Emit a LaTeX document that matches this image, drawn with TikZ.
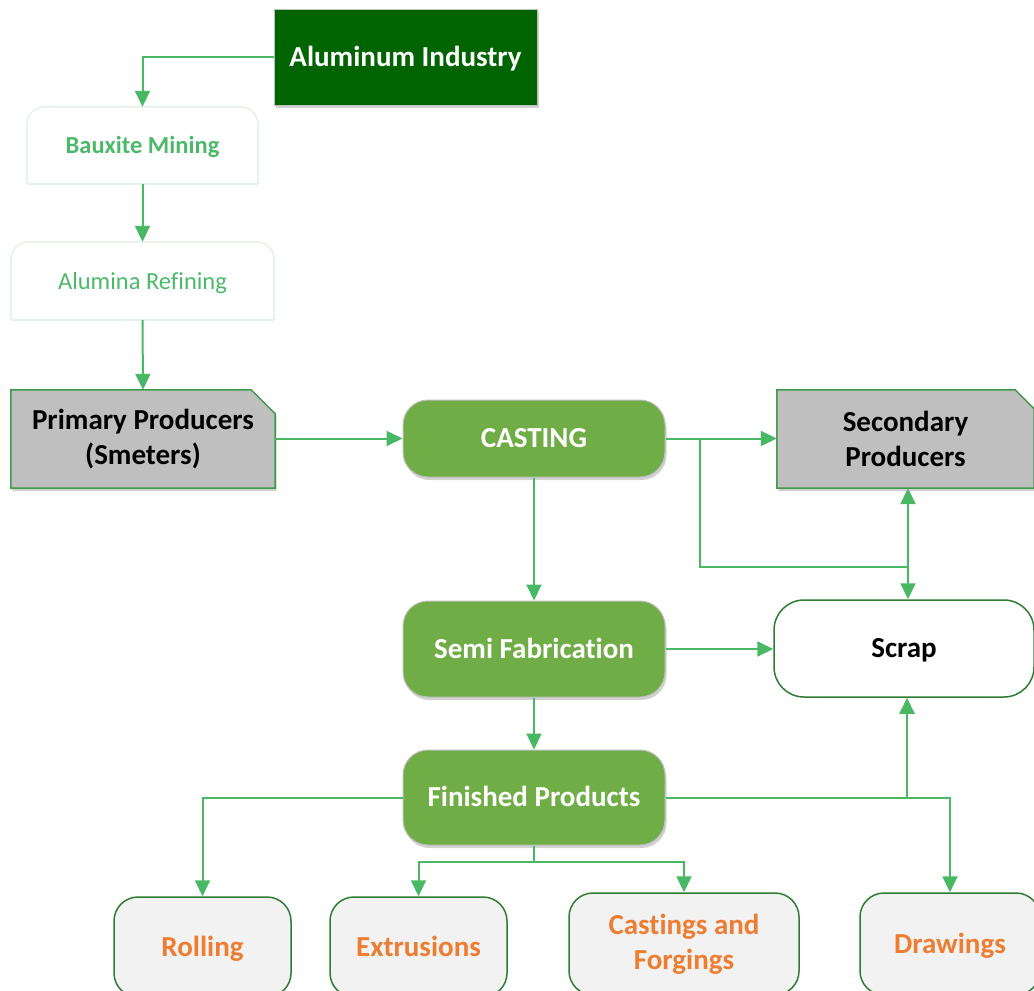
\documentclass[tikz,border=0pt]{standalone}
\usepackage{fontspec}
\setmainfont{Carlito}[Ligatures={NoCommon}]
\usetikzlibrary{arrows.meta,shadows,calc,backgrounds}
\definecolor{dkgreen}{HTML}{006400}
\definecolor{midgreen}{HTML}{70AD47}
\definecolor{arrgreen}{HTML}{48B865}
\definecolor{txtgreen}{HTML}{4CB96A}
\definecolor{palegreen}{HTML}{E3F1E6}
\definecolor{boxgray}{HTML}{BFBFBF}
\definecolor{lightgray2}{HTML}{F2F2F2}
\definecolor{orng}{HTML}{ED7D31}
\definecolor{bordgreen}{HTML}{3F9A4C}
\definecolor{darkbord}{HTML}{2E7D32}
\begin{document}
\begin{tikzpicture}[x=1pt,y=-1pt,
  big/.style={font=\fontsize{29}{35}\selectfont\bfseries, align=center},
  oneline/.style={text height=21pt, text depth=2.5pt},
  smallline/.style={text height=18pt, text depth=2pt},
  shad/.style={drop shadow={shadow xshift=1.5pt, shadow yshift=-3pt, opacity=0.18, fill=black}},
  darkbox/.style={big, oneline, rectangle, fill=dkgreen, draw=boxgray, line width=1pt, text=white, shad},
  topround/.style={align=center, smallline, text=txtgreen, font=\fontsize{24.5}{29}\selectfont},
  snip/.style={big, rectangle, inner sep=0pt, text=black},
  snipshape/.style={fill=boxgray, draw=bordgreen, line width=1.5pt, shad},
  gbox/.style={big, oneline, rectangle, rounded corners=25pt, fill=midgreen, draw=boxgray, line width=1pt, text=white, shad},
  scrapbox/.style={big, oneline, rectangle, rounded corners=30pt, fill=white, draw=darkbord, line width=1.5pt, text=black},
  prodbox/.style={big, rectangle, rounded corners=24pt, fill=lightgray2, draw=darkbord, line width=1.5pt, text=orng},
  arr/.style={draw=arrgreen, line width=2pt, -{Triangle[length=16pt,width=15pt]}},
  ln/.style={draw=arrgreen, line width=2pt}
]
\useasboundingbox (0,0) rectangle (1034,991);

% nodes
\node[darkbox, minimum width=263pt, minimum height=96pt] (ind) at (405.5,57) {Aluminum Industry};
\node[topround, font=\fontsize{24.5}{29}\selectfont\bfseries, minimum width=231pt, minimum height=77pt] (baux) at (142.5,145.5) {Bauxite Mining};
\node[topround, minimum width=263pt, minimum height=78pt] (alum) at (142.5,281) {Alumina Refining};
\node[snip, minimum width=264pt, minimum height=98pt] (prim) at (143,439) {Primary Producers\\(Smeters)};
\node[gbox, minimum width=262pt, minimum height=77pt] (cast) at (534,438.5) {CASTING};
\node[snip, minimum width=257pt, minimum height=98pt] (sec) at (905.5,439) {Secondary\\Producers};
\node[gbox, minimum width=262pt, minimum height=96pt] (semi) at (534,649) {Semi Fabrication};
\node[scrapbox, minimum width=260pt, minimum height=97pt] (scrap) at (904,648.5) {Scrap};
\node[gbox, minimum width=262pt, minimum height=95pt] (fin) at (534,797.5) {Finished Products};
\node[prodbox, oneline, minimum width=177pt, minimum height=100pt] (roll) at (202.5,947) {Rolling};
\node[prodbox, oneline, minimum width=177pt, minimum height=100pt] (extr) at (418.5,947) {Extrusions};
\node[prodbox, minimum width=230pt, minimum height=102pt] (cf) at (684,944) {Castings and\\Forgings};
\node[prodbox, oneline, minimum width=180pt, minimum height=102pt] (draw) at (950,944) {Drawings};

% snipped-corner shapes behind their texts
\begin{pgfonlayer}{background}
\draw[snipshape] (prim.south west) -- (prim.north west) -- ($(prim.north east)+(-24,0)$) -- ($(prim.north east)+(0,24)$) -- (prim.south east) -- cycle;
\draw[snipshape] (sec.south west) -- (sec.north west) -- ($(sec.north east)+(-19,0)$) -- ($(sec.north east)+(0,19)$) -- (sec.south east) -- cycle;
\end{pgfonlayer}

% rounded-top outlines
\draw[palegreen, line width=1.5pt, rounded corners=18pt] (baux.south west) -- (baux.north west) -- (baux.north east) -- (baux.south east);
\draw[palegreen, line width=1.5pt] (baux.south west) -- (baux.south east);
\draw[palegreen, line width=1.5pt, rounded corners=18pt] (alum.south west) -- (alum.north west) -- (alum.north east) -- (alum.south east);
\draw[palegreen, line width=1.5pt] (alum.south west) -- (alum.south east);

% connectors
\draw[arr] (ind.west) -| (baux.north);
\draw[arr] (baux.south) -- (alum.north);
\draw[arr] (alum.south) -- (prim.north);
\draw[arr] (prim.east |- cast.west) -- (cast.west);
\draw[arr] (cast.east) -- (sec.west |- cast.east);
\coordinate (j1) at (700,438.5);
\coordinate (j2) at (908,567);
\draw[ln] (j1) |- (j2);
\draw[arr] (j2) -- (j2 |- sec.south);
\draw[arr] (j2) -- (j2 |- scrap.north);
\draw[arr] (cast.south) -- (semi.north);
\draw[arr] (semi.east) -- (scrap.west |- semi.east);
\draw[arr] (semi.south) -- (fin.north);
\draw[arr] (fin.west) -| (roll.north);
\draw[arr] (fin.east) -| (draw.north);
\coordinate (j3) at (907,797.5);
\draw[arr] (j3) -- (j3 |- scrap.south);
\coordinate (j4) at (534,862);
\draw[ln] (fin.south) -- (j4);
\draw[arr] (j4) -| (extr.north);
\draw[arr] (j4) -| (cf.north);
\end{tikzpicture}
\end{document}
